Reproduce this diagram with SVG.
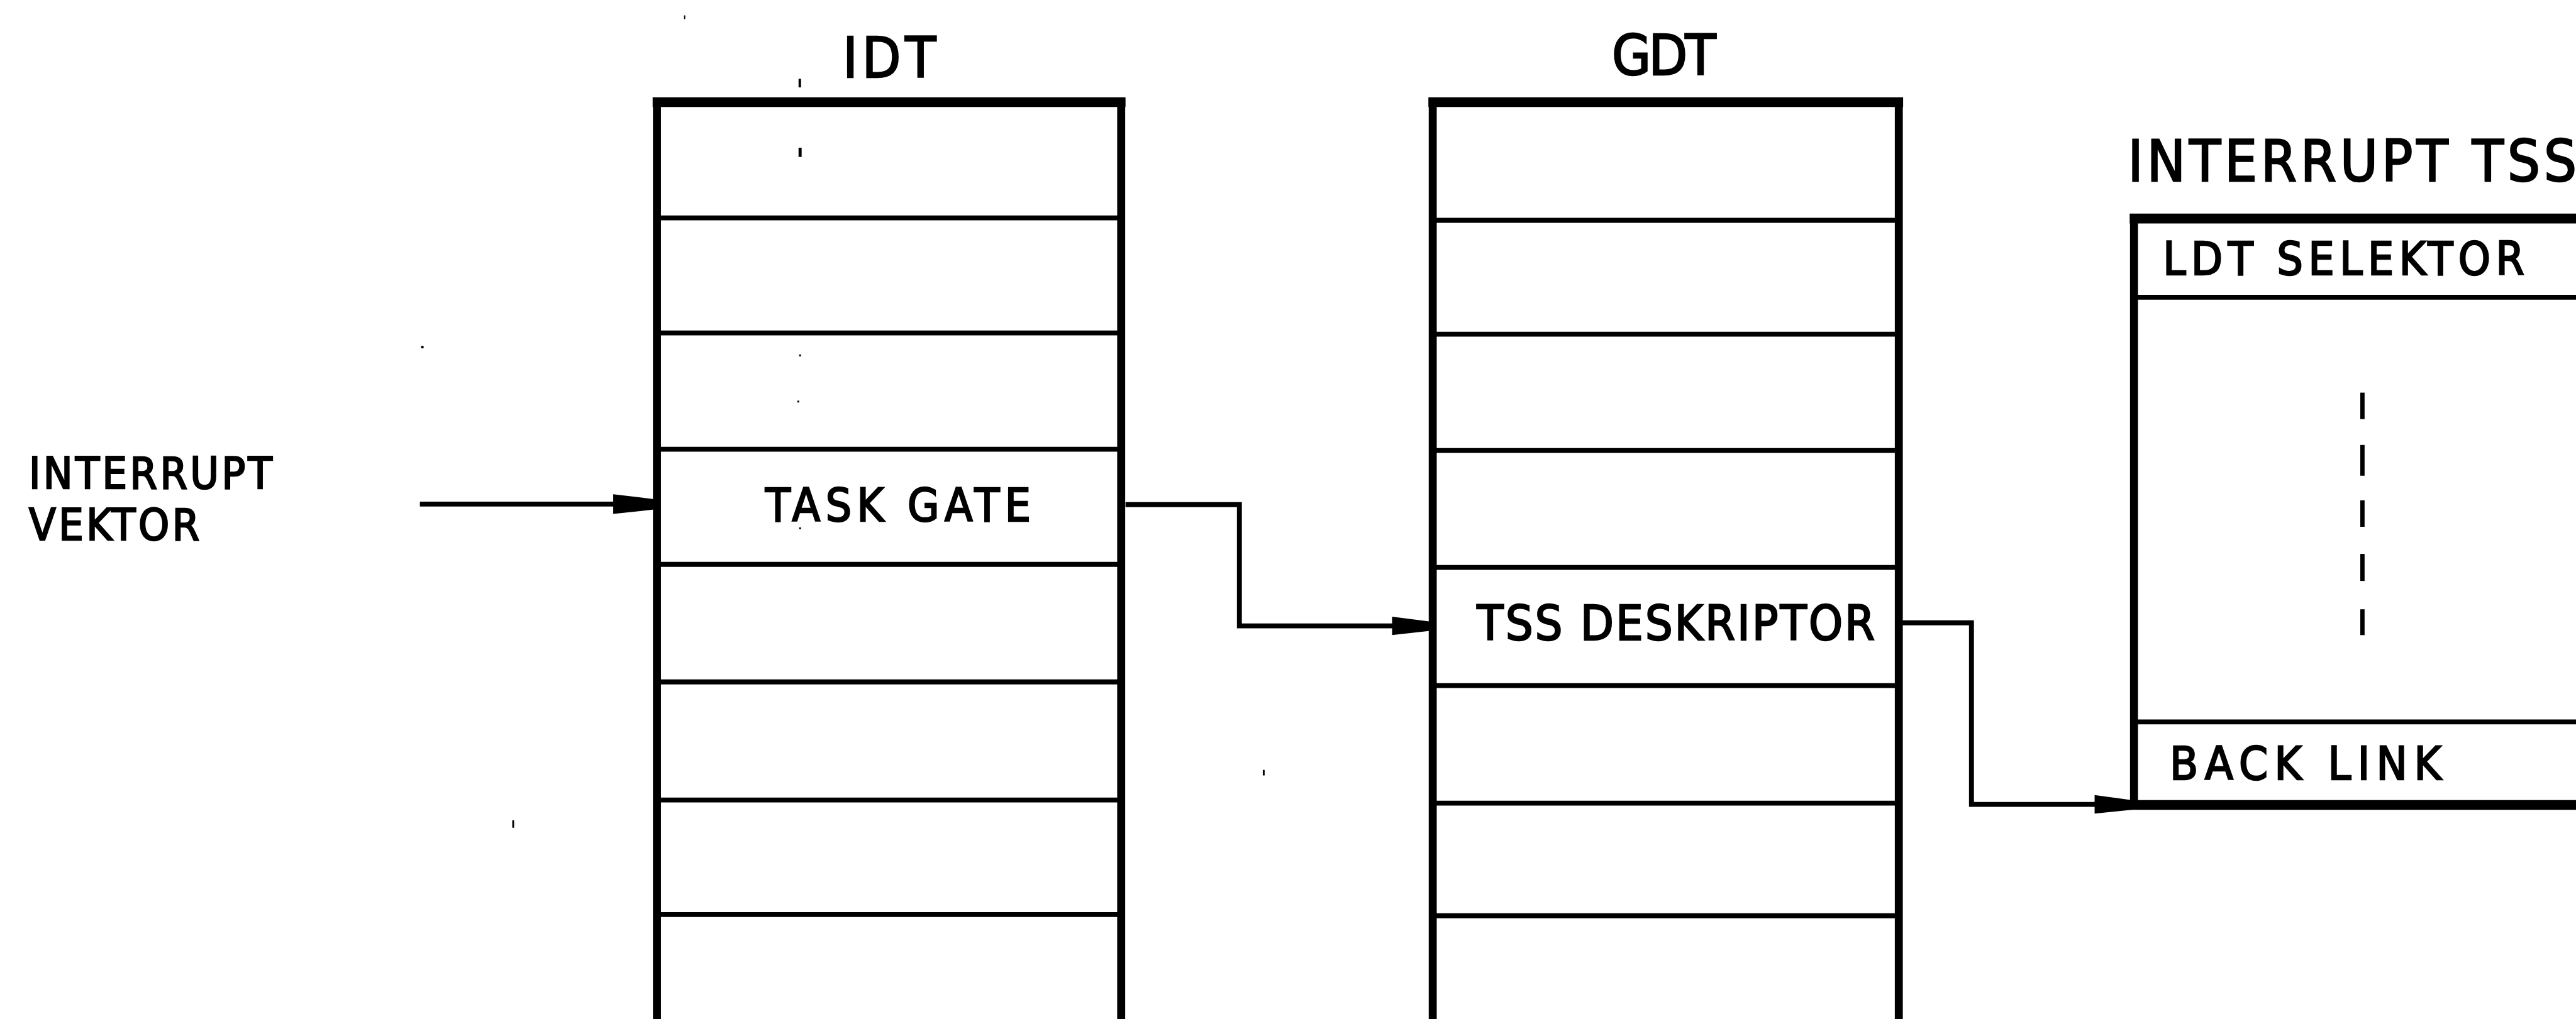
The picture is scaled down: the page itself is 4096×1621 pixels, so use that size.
<svg xmlns="http://www.w3.org/2000/svg" width="4096" height="1621" viewBox="0 0 4096 1621">
<style>
.edge{stroke:#000;stroke-width:13;fill:none;stroke-linecap:square}
.top{stroke:#000;stroke-width:16;fill:none}
.row{stroke:#000;stroke-width:8;fill:none}
.conn{stroke:#000;stroke-width:8;fill:none;stroke-linejoin:miter}
.head{fill:#000}
.dash{stroke:#000;stroke-width:7;fill:none}
text{font-family:"Liberation Sans Narrow","DejaVu Sans Condensed","Liberation Sans",sans-serif;fill:#000;stroke:#000;stroke-width:2.5}
.t74{font-size:74px}
.t91{font-size:91px}
</style>
<rect width="4096" height="1621" fill="#fff"/>
<g transform="scale(0.979)">
  <g id="label-interrupt-vektor">
    <text x="47" y="794" style="font-size:71px" textLength="395" lengthAdjust="spacing">INTERRUPT</text>
    <text x="47" y="877" style="font-size:71px" textLength="277" lengthAdjust="spacing">VEKTOR</text>
  </g>
  <g id="idt">
    <text x="1369" y="126" class="t91" textLength="151" lengthAdjust="spacing">IDT</text>
    <line class="top" x1="1060" y1="166" x2="1828" y2="166"/>
    <line class="edge" x1="1067" y1="166" x2="1067" y2="1670"/>
    <line class="edge" x1="1821" y1="166" x2="1821" y2="1670"/>
    <line class="row" x1="1067" y1="354" x2="1821" y2="354"/>
    <line class="row" x1="1067" y1="541" x2="1821" y2="541"/>
    <line class="row" x1="1067" y1="730" x2="1821" y2="730"/>
    <line class="row" x1="1067" y1="917" x2="1821" y2="917"/>
    <line class="row" x1="1067" y1="1108" x2="1821" y2="1108"/>
    <line class="row" x1="1067" y1="1300" x2="1821" y2="1300"/>
    <line class="row" x1="1067" y1="1486" x2="1821" y2="1486"/>
    <text x="1243" y="847" class="t74" textLength="431" lengthAdjust="spacing">TASK GATE</text>
  </g>
  <g id="gdt">
    <text x="2618" y="122" class="t91" textLength="169" lengthAdjust="spacing">GDT</text>
    <line class="top" x1="2320" y1="166" x2="3091" y2="166"/>
    <line class="edge" x1="2327" y1="166" x2="2327" y2="1670"/>
    <line class="edge" x1="3084" y1="166" x2="3084" y2="1670"/>
    <line class="row" x1="2327" y1="358" x2="3084" y2="358"/>
    <line class="row" x1="2327" y1="543" x2="3084" y2="543"/>
    <line class="row" x1="2327" y1="732" x2="3084" y2="732"/>
    <line class="row" x1="2327" y1="922" x2="3084" y2="922"/>
    <line class="row" x1="2327" y1="1114" x2="3084" y2="1114"/>
    <line class="row" x1="2327" y1="1305" x2="3084" y2="1305"/>
    <line class="row" x1="2327" y1="1488" x2="3084" y2="1488"/>
    <text x="2399" y="1040" style="font-size:78px" textLength="646" lengthAdjust="spacing">TSS DESKRIPTOR</text>
  </g>
  <g id="interrupt-tss">
    <text x="3456" y="294" style="font-size:93px" textLength="729" lengthAdjust="spacing">INTERRUPT TSS</text>
    <line class="top" x1="3459" y1="355" x2="4200" y2="355"/>
    <line class="edge" x1="3466" y1="355" x2="3466" y2="1308"/>
    <line class="row" x1="3466" y1="483" x2="4200" y2="483"/>
    <line class="row" x1="3466" y1="1173" x2="4200" y2="1173"/>
    <line class="top" x1="3459" y1="1308" x2="4200" y2="1308"/>
    <text x="3513" y="446" class="t74" textLength="587" lengthAdjust="spacing">LDT SELEKTOR</text>
    <line class="dash" x1="3837" y1="638" x2="3837" y2="681"/>
    <line class="dash" x1="3837" y1="723" x2="3837" y2="773"/>
    <line class="dash" x1="3837" y1="813" x2="3837" y2="856"/>
    <line class="dash" x1="3837" y1="900" x2="3837" y2="944"/>
    <line class="dash" x1="3837" y1="990" x2="3837" y2="1032"/>
    <text x="3524" y="1267" style="font-size:75px" textLength="441" lengthAdjust="spacing">BACK LINK</text>
  </g>
  <g id="connectors">
    <line class="conn" x1="682" y1="819" x2="1000" y2="819"/>
    <polygon class="head" points="996,803 1062,811 1062,828 996,835"/>
    <polyline class="conn" points="1828,820 2013,820 2013,1017 2265,1017"/>
    <polygon class="head" points="2261,1002 2323,1010 2323,1025 2261,1032"/>
    <polyline class="conn" points="3090,1012 3202,1012 3202,1307 3410,1307"/>
    <polygon class="head" points="3402,1292 3462,1300 3462,1316 3402,1322"/>
  </g>
  <g id="specks" fill="#000">
    <rect x="1297" y="128" width="4" height="14"/>
    <rect x="1297" y="240" width="5" height="15"/>
    <rect x="684" y="562" width="4" height="4"/>
    <rect x="1298" y="576" width="3" height="3"/>
    <rect x="1295" y="651" width="3" height="3"/>
    <rect x="1298" y="857" width="3" height="3"/>
    <rect x="832" y="1333" width="3" height="12"/>
    <rect x="2051" y="1251" width="3" height="9"/>
    <rect x="1111" y="25" width="2" height="6"/>
  </g>
</g>
</svg>
